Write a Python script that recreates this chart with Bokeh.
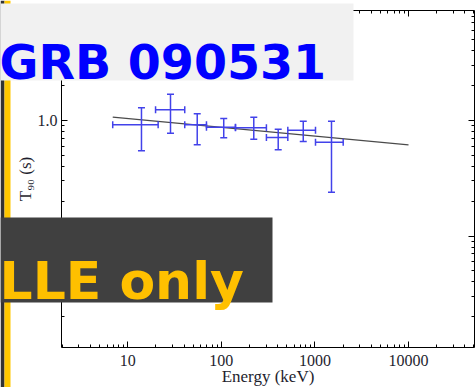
from bokeh.plotting import figure
from bokeh.models import (Whisker, TeeHead, ColumnDataSource, BoxAnnotation, Label,
                          FixedTicker, CustomJSTickFormatter, LogAxis)
from bokeh.embed import file_html
from bokeh.resources import INLINE

# ---- data ----
energy = [14.0, 28.6, 55.2, 106, 222, 405, 750, 1503]
energy_lo = [6.9, 19.8, 40.6, 69.3, 141.5, 303, 513, 1014]
energy_hi = [21.1, 40.6, 69.3, 141.5, 303, 513, 1014, 2005]
t90 = [0.918, 1.238, 0.918, 0.875, 0.865, 0.712, 0.824, 0.649]
t90_lo = [0.547, 0.776, 0.616, 0.708, 0.689, 0.558, 0.658, 0.239]
t90_hi = [1.288, 1.69, 1.143, 1.041, 1.068, 0.841, 0.986, 0.986]
fit_energy = [6.9, 10000]
fit_t90 = [1.068, 0.616]

x_major = [10, 100, 1000, 10000]
y_major = [0.1, 1]
x_minor = [2, 3, 4, 5, 6, 7, 8, 9, 20, 30, 40, 50, 60, 70, 80, 90,
           200, 300, 400, 500, 600, 700, 800, 900,
           2000, 3000, 4000, 5000, 6000, 7000, 8000, 9000,
           20000, 30000, 40000, 50000]
y_minor = [0.02, 0.03, 0.04, 0.05, 0.06, 0.07, 0.08, 0.09,
           0.2, 0.3, 0.4, 0.5, 0.6, 0.7, 0.8, 0.9,
           2, 3, 4, 5, 6, 7, 8]

title_text = "GRB 090531"
note_text = "LLE only"
x_label = "Energy (keV)"
y_label = "T\u2089\u2080 (s)"

# plot box (data limits of the framed area)
X_LO, X_HI = 1.956, 50750
Y_LO, Y_HI = 0.01083, 8.96
W, H = 475, 387

p = figure(width=W, height=H, x_axis_type="log", y_axis_type="log",
           x_axis_location=None, y_axis_location=None,
           x_range=(0.436, 52000), y_range=(0.004879, 10.94),
           output_backend="svg", toolbar_location=None,
           min_border=0, min_border_left=0, min_border_right=0,
           min_border_top=0, min_border_bottom=0)
p.outline_line_color = None
for g in p.grid:
    g.visible = False
p.background_fill_color = "white"
p.border_fill_color = "white"

tick_font = "Liberation Serif"
txt_col = "#1e1e2e"


def make_axis(ticks, minors, loc, bounds, labels):
    ax = LogAxis(ticker=FixedTicker(ticks=ticks, minor_ticks=minors),
                 fixed_location=loc, bounds=bounds)
    ax.major_tick_in = 6
    ax.major_tick_out = 0
    ax.minor_tick_in = 3
    ax.minor_tick_out = 0
    ax.axis_line_color = "black"
    ax.major_tick_line_color = "black"
    ax.minor_tick_line_color = "black"
    ax.axis_line_width = 1
    if labels:
        ax.major_label_text_font = tick_font
        ax.major_label_text_font_size = "16px"
        ax.major_label_text_color = txt_col
        ax.axis_label_text_font = tick_font
        ax.axis_label_text_font_size = "17px"
        ax.axis_label_text_font_style = "normal"
        ax.axis_label_text_color = txt_col
    else:
        ax.formatter = CustomJSTickFormatter(code="return ''")
        ax.major_label_standoff = 0
    return ax


bx = make_axis(x_major, x_minor, Y_LO, (X_LO, X_HI), True)
bx.formatter = CustomJSTickFormatter(code="return tick.toFixed(0)")
bx.axis_label = x_label
bx.major_label_standoff = 7
bx.axis_label_standoff = -2
p.add_layout(bx, "below")

ly = make_axis(y_major, y_minor, X_LO, (Y_LO, Y_HI), True)
ly.formatter = CustomJSTickFormatter(code="return tick >= 1 ? tick.toFixed(1) : String(tick)")
ly.axis_label = y_label
ly.major_label_standoff = 4
ly.axis_label_standoff = 0
p.add_layout(ly, "left")

tx = make_axis(x_major, x_minor, Y_HI, (X_LO, X_HI), False)
p.add_layout(tx, "above")
ry = make_axis(y_major, y_minor, X_HI, (Y_LO, Y_HI), False)
p.add_layout(ry, "right")

# fit line
p.line(fit_energy, fit_t90, line_color="#2a2a2a", line_width=1.3, line_alpha=0.85)

# error bars
src = ColumnDataSource(dict(e=energy, elo=energy_lo, ehi=energy_hi,
                            t=t90, tlo=t90_lo, thi=t90_hi))
bar_col = "#4242ea"
for dim, base, lo, hi in (("height", "e", "tlo", "thi"), ("width", "t", "elo", "ehi")):
    w = Whisker(source=src, base=base, lower=lo, upper=hi, dimension=dim,
                line_color=bar_col, line_width=1.5,
                upper_head=TeeHead(size=7, line_color=bar_col, line_width=1.5),
                lower_head=TeeHead(size=7, line_color=bar_col, line_width=1.5),
                level="glyph")
    p.add_layout(w)


# overlay decorations in screen units (x from left, y from top of canvas)
def box(x0, y0, x1, y1, color):
    b = BoxAnnotation(left=x0, right=x1, top=H - y0, bottom=H - y1,
                      left_units="screen", right_units="screen",
                      top_units="screen", bottom_units="screen",
                      fill_color=color, fill_alpha=1.0, line_color=None,
                      level="overlay")
    p.add_layout(b)


box(0, 0, 4, H, "#333333")
box(4, 0, 10, H, "#ffc800")
box(0, 3, 353, 80, "#f1f1f1")
box(0, 217, 272, 302, "#404040")

p.add_layout(Label(x=-1, y=H - 62, x_units="screen", y_units="screen",
                   text=title_text, text_font="DejaVu Sans", text_font_style="bold",
                   text_font_size="47.5px", text_color="#0000ff",
                   text_baseline="alphabetic", level="overlay"))
p.add_layout(Label(x=-1, y=H - 280, x_units="screen", y_units="screen",
                   text=note_text, text_font="DejaVu Sans", text_font_style="bold",
                   text_font_size="52px", text_color="#ffc000",
                   text_baseline="alphabetic", level="overlay"))

open("out.html", "w").write(file_html(p, INLINE))
